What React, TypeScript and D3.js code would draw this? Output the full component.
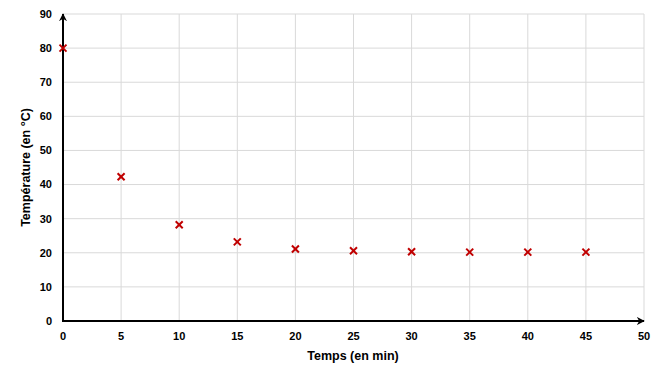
import React from "react";
import * as d3 from "d3";

const times = [0, 5, 10, 15, 20, 25, 30, 35, 40, 45];
const temps = [80, 42.3, 28.2, 23.2, 21.1, 20.6, 20.3, 20.2, 20.2, 20.2];
const xTicks = [0, 5, 10, 15, 20, 25, 30, 35, 40, 45, 50];
const yTicks = [0, 10, 20, 30, 40, 50, 60, 70, 80, 90];

export default function App() {
  const W = 665, H = 381;
  const x = d3.scaleLinear().domain([0, 50]).range([63, 644]);
  const y = d3.scaleLinear().domain([0, 90]).range([321, 14]);
  const font = "'Liberation Sans', Arial, sans-serif";
  const red = "#c00000";
  return (
    <svg width={W} height={H} style={{ position: "absolute", left: 0, top: 0, background: "#fff" }}>
      <defs>
        <marker id="arr" viewBox="0 0 10 10" refX="9" refY="5" markerWidth="4" markerHeight="4" orient="auto" markerUnits="strokeWidth">
          <path d="M0,0 L10,5 L0,10 L3,5 z" fill="#000" />
        </marker>
      </defs>
      {xTicks.filter(t => t > 0).map(t => (
        <line key={"gx" + t} x1={x(t)} x2={x(t)} y1={y(90)} y2={y(0)} stroke="#d9d9d9" strokeWidth={1} />
      ))}
      {yTicks.filter(t => t > 0).map(t => (
        <line key={"gy" + t} x1={x(0)} x2={x(50)} y1={y(t)} y2={y(t)} stroke="#d9d9d9" strokeWidth={1} />
      ))}
      <line x1={x(0)} x2={x(0)} y1={y(0) + 1} y2={y(90)} stroke="#000" strokeWidth={2} markerEnd="url(#arr)" />
      <line x1={x(0) - 1} x2={x(50)} y1={y(0)} y2={y(0)} stroke="#000" strokeWidth={2} markerEnd="url(#arr)" />
      {yTicks.map(t => (
        <text key={"ty" + t} x={52} y={y(t)} dy="0.35em" textAnchor="end" fontFamily={font} fontWeight="bold" fontSize={11} fill="#000">{t}</text>
      ))}
      {xTicks.map(t => (
        <text key={"tx" + t} x={x(t)} y={336} dy="0.35em" textAnchor="middle" fontFamily={font} fontWeight="bold" fontSize={11} fill="#000">{t}</text>
      ))}
      <text x={353} y={356} dy="0.35em" textAnchor="middle" fontFamily={font} fontWeight="bold" fontSize={12.5} fill="#000">Temps (en min)</text>
      <text transform={`translate(26,${y(45)}) rotate(-90)`} dy="0.35em" textAnchor="middle" fontFamily={font} fontWeight="bold" fontSize={12.5} fill="#000">Température (en °C)</text>
      {times.map((t, i) => {
        const cx = x(t), cy = y(temps[i]), s = 3.5;
        return (
          <g key={"m" + i} stroke={red} strokeWidth={2}>
            <line x1={cx - s} y1={cy - s} x2={cx + s} y2={cy + s} />
            <line x1={cx - s} y1={cy + s} x2={cx + s} y2={cy - s} />
          </g>
        );
      })}
    </svg>
  );
}
